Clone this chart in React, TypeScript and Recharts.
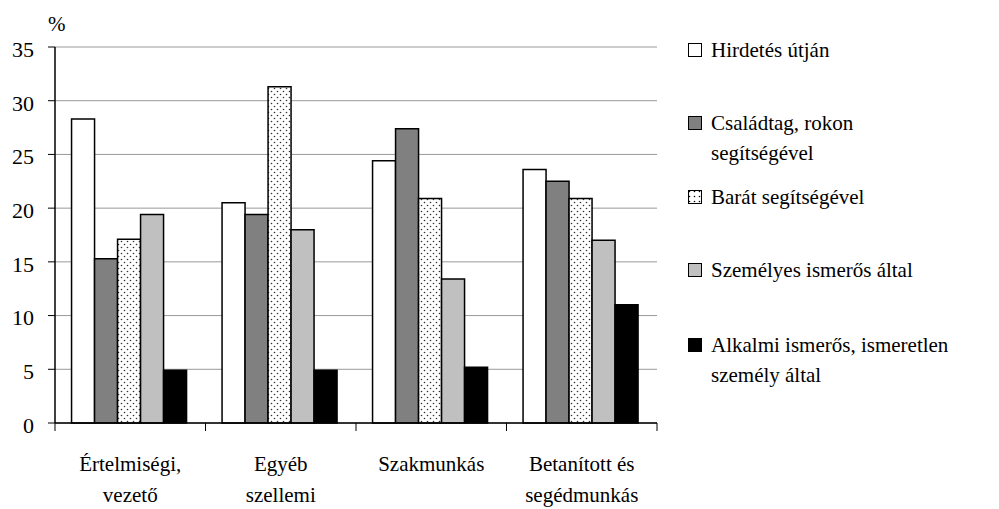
import { BarChart, Bar, XAxis, YAxis, CartesianGrid } from "recharts";

const categories = [
  ["Értelmiségi,", "vezető"],
  ["Egyéb", "szellemi"],
  ["Szakmunkás"],
  ["Betanított és", "segédmunkás"],
];
const hirdetes = [28.3, 20.5, 24.4, 23.6];
const csaladtag = [15.3, 19.4, 27.4, 22.5];
const barat = [17.1, 31.3, 20.9, 20.9];
const szemelyes = [19.4, 18.0, 13.4, 17.0];
const alkalmi = [4.9, 4.9, 5.2, 11.0];
const yTicks = [0, 5, 10, 15, 20, 25, 30, 35];

const series = [
  { key: "hirdetes", label: ["Hirdetés útján"], fill: "#ffffff", values: hirdetes },
  { key: "csaladtag", label: ["Családtag, rokon", "segítségével"], fill: "#808080", values: csaladtag },
  { key: "barat", label: ["Barát segítségével"], fill: "url(#dots)", values: barat },
  { key: "szemelyes", label: ["Személyes ismerős által"], fill: "#c0c0c0", values: szemelyes },
  { key: "alkalmi", label: ["Alkalmi ismerős, ismeretlen", "személy által"], fill: "#000000", values: alkalmi },
];

const data = categories.map((c, i) => {
  const row: Record<string, string | number> = { name: c.join(" ") };
  series.forEach((s) => (row[s.key] = s.values[i]));
  return row;
});

const FONT = "Tinos";
const W = 999;
const H = 509;
const margin = { top: 47, right: 342, bottom: 0, left: 0 };
const Y_W = 55;
const X_H = 86;
const STEP = (W - margin.left - margin.right - Y_W) / categories.length;

const legendTops = [35, 108, 182, 255, 330];

const CatTick = (props: any) => {
  const { x, y, index } = props;
  const lines = categories[index] || [];
  return (
    <g>
      <line x1={x - STEP / 2} x2={x - STEP / 2} y1={y} y2={y + 8} stroke="#000" />
      {index === categories.length - 1 && (
        <line x1={x + STEP / 2} x2={x + STEP / 2} y1={y} y2={y + 8} stroke="#000" />
      )}
      {lines.map((l: string, i: number) => (
        <text key={i} x={x} y={y + 48 + i * 31} textAnchor="middle" fontFamily={FONT} fontSize={21} fill="#000">
          {l}
        </text>
      ))}
    </g>
  );
};

const DotsIcon = () => (
  <svg width={14} height={14} style={{ display: "block" }}>
    <defs>
      <pattern id="dotsIcon" width={5} height={5} patternUnits="userSpaceOnUse">
        <rect width={5} height={5} fill="#fff" />
        <circle cx={1.5} cy={1.5} r={0.8} fill="#000" />
      </pattern>
    </defs>
    <rect x={0.5} y={0.5} width={13} height={13} fill="url(#dotsIcon)" stroke="#000" />
  </svg>
);

export default function App() {
  return (
    <div style={{ position: "absolute", left: 0, top: 0, width: W, height: H, background: "#fff", fontFamily: FONT }}>
      <BarChart width={W} height={H} data={data} margin={margin} barCategoryGap="11%" barGap={0}>
        <defs>
          <pattern id="dots" width={6} height={6} patternUnits="userSpaceOnUse">
            <rect width={6} height={6} fill="#fff" />
            <circle cx={1.5} cy={1.5} r={0.8} fill="#333" />
            <circle cx={4.5} cy={4.5} r={0.8} fill="#333" />
          </pattern>
        </defs>
        <CartesianGrid vertical={false} stroke="#999" />
        <XAxis
          dataKey="name"
          interval={0}
          height={X_H}
          tickSize={0}
          tickMargin={0}
          tickLine={false}
          axisLine={{ stroke: "#000", strokeWidth: 1.5 }}
          tick={<CatTick />}
        />
        <YAxis
          width={Y_W}
          domain={[0, 35]}
          ticks={yTicks}
          interval={0}
          tickSize={7}
          tickMargin={14}
          axisLine={{ stroke: "#000", strokeWidth: 1.5 }}
          tickLine={{ stroke: "#000" }}
          tick={{ fill: "#000", fontSize: 22, fontFamily: FONT, dy: 2 }}
        />
        <YAxis
          yAxisId="right"
          orientation="right"
          width={0}
          tick={false}
          tickLine={false}
          axisLine={{ stroke: "#999", strokeWidth: 2 }}
        />
        {series.map((s) => (
          <Bar
            key={s.key}
            dataKey={s.key}
            fill={s.fill}
            stroke="#000"
            strokeWidth={1.5}
            isAnimationActive={false}
          />
        ))}
      </BarChart>
      <div style={{ position: "absolute", left: 48, top: 12, fontSize: 21, lineHeight: "24px", fontFamily: FONT }}>%</div>
      {series.map((s, i) => (
        <div
          key={s.key}
          style={{ position: "absolute", left: 688, top: legendTops[i], display: "flex", fontSize: 21, lineHeight: "30px", fontFamily: FONT }}
        >
          <div style={{ width: 14, height: 30, display: "flex", alignItems: "center", marginRight: 9 }}>
            {s.key === "barat" ? (
              <DotsIcon />
            ) : (
              <div style={{ width: 12, height: 12, border: "1px solid #000", background: s.fill }} />
            )}
          </div>
          <div>
            {s.label.map((l, j) => (
              <div key={j} style={{ whiteSpace: "nowrap" }}>{l}</div>
            ))}
          </div>
        </div>
      ))}
    </div>
  );
}
